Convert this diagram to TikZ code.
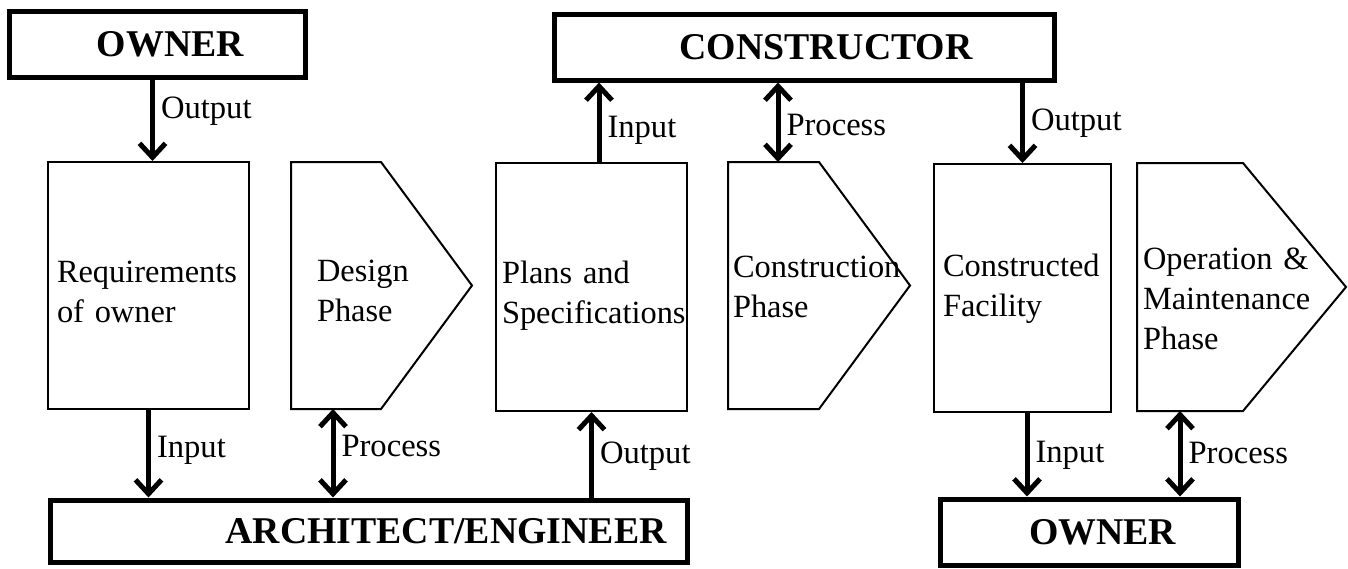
\documentclass[tikz,border=0pt]{standalone}
\usepackage{fontspec}
\setmainfont{Liberation Serif}
\usetikzlibrary{arrows.meta,calc}
\hyphenpenalty=10000

\begin{document}
\begin{tikzpicture}[x=1pt,y=-1pt,>={Straight Barb[length=14pt,width=26pt]},
    actor/.style={draw,line width=5pt,inner sep=0pt,
      font=\fontsize{37.8}{44}\selectfont\bfseries},
    stage/.style={draw,line width=2pt,align=left,inner ysep=0pt,
      font=\fontsize{32.4}{40}\selectfont},
    phase/.style={stage,draw=none,outer sep=0pt},
    drop/.style={execute at begin node={\rule{0pt}{#1}}},
    flow/.style={->,line width=5pt},
    lbl/.style={right,inner xsep=6pt,font=\fontsize{32.6}{40}\selectfont}]
  \useasboundingbox (0,0) rectangle (1348,568);

  % the three parties
  \node[actor,minimum width=296pt,minimum height=66pt] (owner1) at (157.5,44.5)
    {\hspace*{26pt}OWNER};
  \node[actor,minimum width=500pt,minimum height=65.5pt] (constructor) at (804,47.3)
    {\hspace*{44pt}CONSTRUCTOR};
  \node[actor,minimum width=637pt,minimum height=62pt] (arch) at (368.5,531)
    {\hspace*{155pt}ARCHITECT/ENGINEER};
  \node[actor,minimum width=298pt,minimum height=66pt] (owner2) at (1089,532)
    {\hspace*{27pt}OWNER};

  % products and phases
  \node[stage,drop=35pt,text width=183pt,inner xsep=9pt,minimum height=247pt] (req) at (148.5,285.5)
    {Requirements\\of owner};
  \node[phase,drop=33pt,text width=129pt,inner xsep=26pt,minimum height=247pt] (design) at (381.5,285.5)
    {Design\\Phase};
  \node[stage,drop=39pt,text width=179pt,inner xsep=6pt,minimum height=248pt] (plans) at (591.5,287)
    {Plans and\\Specifications};
  \node[phase,drop=25pt,text width=172pt,inner xsep=5pt,minimum height=247pt] (construction) at (819,285.5)
    {Construction\\Phase};
  \node[stage,drop=23pt,text width=159pt,inner xsep=9pt,minimum height=248pt] (facility) at (1022.5,288)
    {Constructed\\Facility};
  \node[phase,drop=46pt,text width=197pt,inner xsep=6pt,minimum height=248pt] (operation) at (1241.5,287)
    {Operation \&\\Maintenance\\Phase};

  \draw[line width=2pt] (design.north west) -- ++(90,0) -- (design.east)
    -- ($(design.south west)+(90,0)$) -- (design.south west) -- cycle;
  \draw[line width=2pt] (construction.north west) -- ++(91,0) -- (construction.east)
    -- ($(construction.south west)+(91,0)$) -- (construction.south west) -- cycle;
  \draw[line width=2pt] (operation.north west) -- ++(106,0) -- (operation.east)
    -- ($(operation.south west)+(106,0)$) -- (operation.south west) -- cycle;

  % feet of the arrows
  \path ($(req.north)+(4,0)$) coordinate (r-in);
  \path ($(design.south west)+(42,0)$) coordinate (d-foot);
  \path ($(plans.north)+(7.5,0)$) coordinate (p-out);
  \path ($(construction.north west)+(50,0)$) coordinate (c-top);
  \path ($(facility.south)+(4.5,0)$) coordinate (f-out);
  \path ($(operation.south west)+(43,0)$) coordinate (o-foot);

  \draw[flow] (r-in |- owner1.south) -- node[lbl,pos=0.38] {Output} (r-in);
  \draw[flow] (req.south) -- node[lbl,pos=0.46] {Input} (req.south |- arch.north);
  \draw[flow,<->] (d-foot) -- node[lbl,pos=0.42] {Process} (d-foot |- arch.north);
  \draw[flow] (plans.south |- arch.north) -- node[lbl,pos=0.48] {Output} (plans.south);
  \draw[flow] (p-out) -- node[lbl,pos=0.4] {Input} (p-out |- constructor.south);
  \draw[flow,<->] (c-top |- constructor.south) -- node[lbl,pos=0.53] {Process} (c-top);
  \draw[flow] (facility.north |- constructor.south) -- node[lbl,pos=0.51] {Output} (facility.north);
  \draw[flow] (f-out) -- node[lbl,pos=0.51] {Input} (f-out |- owner2.north);
  \draw[flow,<->] (o-foot) -- node[lbl,pos=0.49] {Process} (o-foot |- owner2.north);
\end{tikzpicture}
\end{document}
